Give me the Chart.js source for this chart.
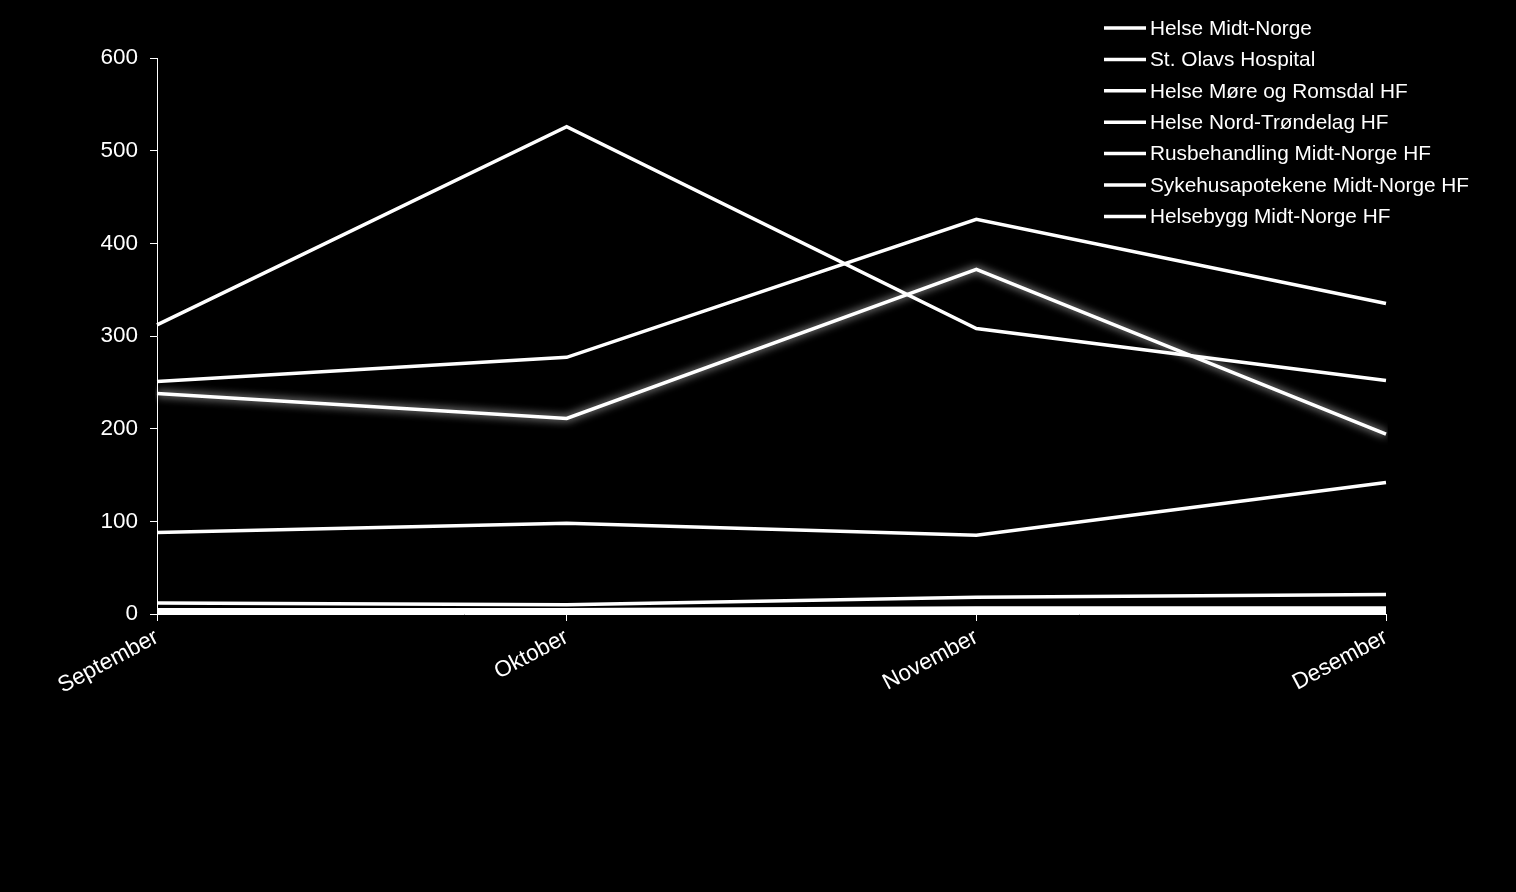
<!DOCTYPE html>
<html>
<head>
<meta charset="utf-8">
<script src="https://cdn.jsdelivr.net/npm/chart.js@4/dist/chart.umd.min.js"></script>
<style>
  html, body { margin: 0; padding: 0; background: #000; }
  canvas { display: block; }
</style>
</head>
<body>
<canvas id="chart" width="1516" height="892"></canvas>
<script>
// data
const months = ["September", "Oktober", "November", "Desember"];
const seriesNames = [
  "Helse Midt-Norge",
  "St. Olavs Hospital",
  "Helse Møre og Romsdal HF",
  "Helse Nord-Trøndelag HF",
  "Rusbehandling Midt-Norge HF",
  "Sykehusapotekene Midt-Norge HF",
  "Helsebygg Midt-Norge HF"
];
const helseMidtNorge = [238, 211, 372, 194];
const stOlavs = [312, 526, 308, 252];
const moreRomsdal = [251, 277, 426, 335];
const nordTrondelag = [88, 98, 85, 142];
const rusbehandling = [12, 10, 18, 21];
const sykehusapotekene = [4, 4, 6, 6];
const helsebygg = [1, 1, 2, 2];
const yTicks = [0, 100, 200, 300, 400, 500, 600];

const allValues = [helseMidtNorge, stOlavs, moreRomsdal, nordTrondelag, rusbehandling, sykehusapotekene, helsebygg];

const fontFamily = "'Liberation Sans', Arial, sans-serif";
const axisFont = { family: fontFamily, size: 22.5 };

// black background
const bgPlugin = {
  id: 'bg',
  beforeDraw(chart) {
    const c = chart.ctx;
    c.save();
    c.fillStyle = '#000';
    c.fillRect(0, 0, chart.width, chart.height);
    c.restore();
  }
};

// soft glow on the first series
const glowPlugin = {
  id: 'glow',
  beforeDatasetDraw(chart, args) {
    if (args.index === 0) {
      chart.ctx.save();
      chart.ctx.shadowColor = 'rgba(255,255,255,0.9)';
      chart.ctx.shadowBlur = 9;
    }
  },
  afterDatasetDraw(chart, args) {
    if (args.index === 0) chart.ctx.restore();
  }
};

// legend drawn in the top right corner
const legendPlugin = {
  id: 'cornerLegend',
  afterDraw(chart) {
    const c = chart.ctx;
    c.save();
    c.font = "20.8px " + fontFamily;
    c.textBaseline = 'middle';
    c.fillStyle = '#fff';
    c.strokeStyle = '#fff';
    c.lineWidth = 3.5;
    chart.data.datasets.forEach((ds, i) => {
      const y = 28 + i * 31.4;
      c.beginPath();
      c.moveTo(1104, y);
      c.lineTo(1146, y);
      c.stroke();
      c.fillText(ds.label, 1150, y + 1);
    });
    c.restore();
  }
};

const datasets = seriesNames.map((name, i) => ({
  label: name,
  data: allValues[i],
  borderColor: '#fff',
  backgroundColor: '#fff',
  borderWidth: i >= 5 ? 4.5 : 3.5,
  pointRadius: 0,
  tension: 0,
  fill: false
}));

const chart = new Chart(document.getElementById('chart').getContext('2d'), {
  type: 'line',
  data: { labels: months, datasets: datasets },
  plugins: [bgPlugin, glowPlugin, legendPlugin],
  options: {
    responsive: false,
    animation: false,
    layout: { padding: { left: 0, right: 130, top: 58, bottom: 0 } },
    plugins: {
      legend: { display: false },
      tooltip: { enabled: false }
    },
    scales: {
      x: {
        offset: false,
        afterFit(scale) { scale.height = 892 - 614; },
        grid: { drawOnChartArea: false, color: '#fff', tickLength: 7 },
        border: { color: '#fff', width: 1 },
        ticks: { color: '#fff', font: axisFont, minRotation: 28, maxRotation: 28, padding: 3 }
      },
      y: {
        min: 0,
        max: 600,
        afterFit(scale) { scale.width = 157; },
        afterBuildTicks(scale) { scale.ticks = yTicks.map(v => ({ value: v })); },
        grid: { drawOnChartArea: false, color: '#fff', tickLength: 7 },
        border: { color: '#fff', width: 1 },
        ticks: { color: '#fff', font: axisFont, padding: 12 }
      }
    }
  }
});
</script>
</body>
</html>
